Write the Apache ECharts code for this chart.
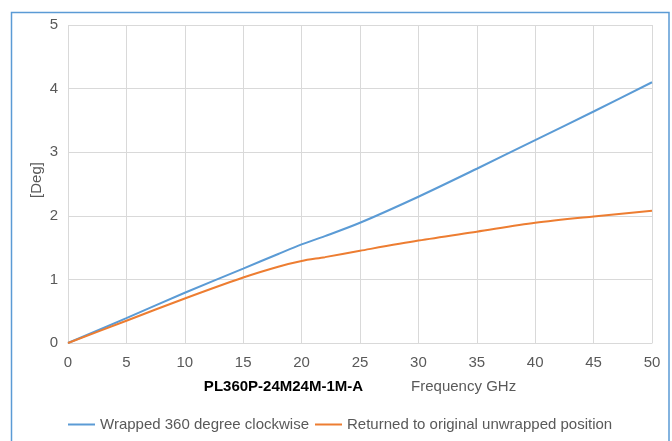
<!DOCTYPE html>
<html><head><meta charset="utf-8">
<script src="https://cdn.jsdelivr.net/npm/echarts@6/dist/echarts.min.js"></script>
<style>html,body{margin:0;padding:0;background:#fff}#c{width:672px;height:441px}</style>
</head><body><div id="c"></div>
<script>
const freq = [0, 5, 10, 15, 18, 20, 22, 25, 30, 35, 40, 45, 50];
const wrapped = [0, 0.39, 0.79, 1.17, 1.40, 1.55, 1.68, 1.89, 2.30, 2.74, 3.19, 3.64, 4.10];
const returned = [0, 0.35, 0.70, 1.03, 1.20, 1.29, 1.35, 1.45, 1.61, 1.75, 1.89, 1.99, 2.08];
const xTicks = [0, 5, 10, 15, 20, 25, 30, 35, 40, 45, 50];
const yTicks = [0, 1, 2, 3, 4, 5];
const seriesNames = ['Wrapped 360 degree clockwise', 'Returned to original unwrapped position'];
const font = 'Liberation Sans, Arial, sans-serif';
const chart = echarts.init(document.getElementById('c'));
chart.setOption({
  animation: false,
  textStyle: {fontFamily: font},
  graphic: [{type: 'rect', shape: {x: 11.5, y: 12.5, width: 657.5, height: 450}, style: {fill: 'none', stroke: '#5b9bd5', lineWidth: 1.5}, z: -1}],
  grid: {left: 68, right: 20, top: 25, bottom: 98},
  legend: {bottom: 4, left: 63, itemWidth: 27, itemHeight: 2, itemGap: 6, icon: 'rect',
    textStyle: {color: '#595959', fontSize: 15, fontFamily: font}, data: seriesNames},
  xAxis: {type: 'value', min: xTicks[0], max: xTicks[xTicks.length - 1], interval: 5,
    axisLine: {lineStyle: {color: '#d9d9d9', width: 1}}, axisTick: {show: false},
    axisLabel: {color: '#595959', fontSize: 15, margin: 12},
    splitLine: {lineStyle: {color: '#d9d9d9'}},
    name: '{b|PL360P-24M24M-1M-A}{s|}{n|Frequency GHz}', nameLocation: 'middle', nameGap: 36,
    nameTextStyle: {rich: {
      b: {fontWeight: 'bold', color: '#000', fontSize: 15, fontFamily: font},
      s: {width: 48},
      n: {color: '#595959', fontSize: 15, fontFamily: font}}}},
  yAxis: {type: 'value', min: yTicks[0], max: yTicks[yTicks.length - 1], interval: 1,
    axisLine: {show: false}, axisTick: {show: false},
    axisLabel: {color: '#595959', fontSize: 15, margin: 10},
    splitLine: {lineStyle: {color: '#d9d9d9'}},
    name: '[Deg]', nameLocation: 'middle', nameGap: 24, nameRotate: 90, nameMoveOverlap: false,
    nameTextStyle: {color: '#595959', fontSize: 15, padding: [0, 0, 0, 8]}},
  series: [
    {name: seriesNames[0], type: 'line', smooth: 0.3, showSymbol: false, data: freq.map((f, i) => [f, wrapped[i]]),
      lineStyle: {color: '#5b9bd5', width: 2}, itemStyle: {color: '#5b9bd5'}},
    {name: seriesNames[1], type: 'line', smooth: 0.3, showSymbol: false, data: freq.map((f, i) => [f, returned[i]]),
      lineStyle: {color: '#ed7d31', width: 2}, itemStyle: {color: '#ed7d31'}}
  ]
});
</script></body></html>
